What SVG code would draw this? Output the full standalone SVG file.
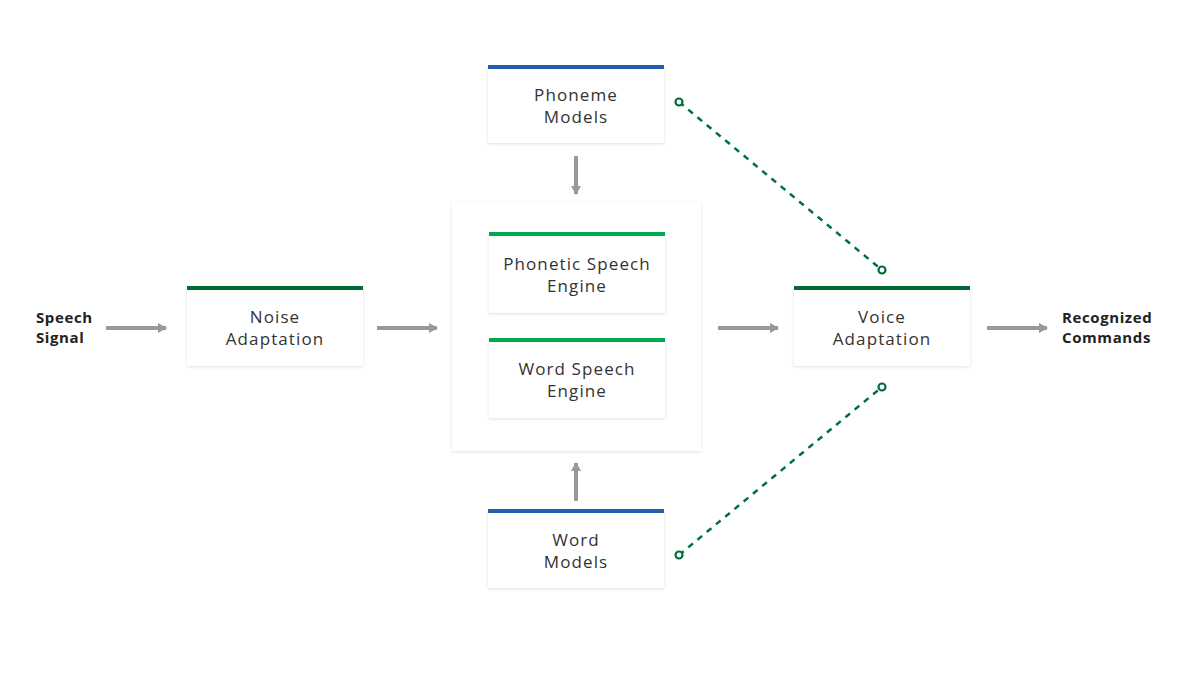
<svg xmlns="http://www.w3.org/2000/svg" width="1200" height="675" viewBox="0 0 1200 675">
<defs>
<filter id="sh" x="-10%" y="-10%" width="120%" height="130%">
<feDropShadow dx="0" dy="1" stdDeviation="1.5" flood-color="#000" flood-opacity="0.12"/>
</filter>
<marker id="ah" markerWidth="10" markerHeight="12" refX="8" refY="6" orient="auto" markerUnits="userSpaceOnUse">
<path d="M0,1 L9,6 L0,11 Z" fill="#999"/>
</marker>
<marker id="oc" markerWidth="12" markerHeight="12" refX="6" refY="6" markerUnits="userSpaceOnUse">
<circle cx="6" cy="6" r="3.5" fill="#fff" stroke="#00703c" stroke-width="2.2"/>
</marker>
</defs>
<style>
.box{fill:#fff;filter:url(#sh)}
.t{font-family:"Open Sans","Noto Sans",sans-serif;font-size:17px;letter-spacing:1.1px;fill:#333;text-anchor:middle}
.lb{font-family:"Open Sans","Noto Sans",sans-serif;font-size:15px;letter-spacing:0.6px;font-weight:bold;fill:#222}
.arr{stroke:#999;stroke-width:4;fill:none;marker-end:url(#ah)}
.dash{stroke:#00703c;stroke-width:2.5;stroke-dasharray:6,6;fill:none;marker-start:url(#oc);marker-end:url(#oc)}
.blue{fill:#1f5fad}.lg{fill:#00a94f}.dg{fill:#006b35}
</style>
<rect width="1200" height="675" fill="#fff"/>
<g id="connectors">
<line class="arr" x1="106" y1="328" x2="166" y2="328"/>
<line class="arr" x1="377" y1="328" x2="437" y2="328"/>
<line class="arr" x1="718" y1="328" x2="778" y2="328"/>
<line class="arr" x1="987" y1="328" x2="1047" y2="328"/>
<line class="arr" x1="576" y1="156" x2="576" y2="194"/>
<line class="arr" x1="576" y1="501" x2="576" y2="463"/>
<line class="dash" x1="679" y1="102" x2="882" y2="270"/>
<line class="dash" x1="679" y1="555" x2="882" y2="387"/>
</g>
<g id="speech-signal"><text class="lb" x="36" y="323">Speech</text><text class="lb" x="36" y="343">Signal</text></g>
<g id="recognized-commands"><text class="lb" x="1062" y="323">Recognized</text><text class="lb" x="1062" y="343">Commands</text></g>
<g id="phoneme-models"><rect class="box" x="488" y="66" width="176" height="77"/><rect class="blue" x="488" y="65" width="176" height="4"/>
<text class="t" x="576" y="101">Phoneme</text><text class="t" x="576" y="123">Models</text></g>
<g id="engine-group"><rect class="box" x="452" y="202" width="249" height="249"/></g>
<g id="phonetic-engine"><rect class="box" x="489" y="233" width="176" height="80"/><rect class="lg" x="489" y="232" width="176" height="4"/>
<text class="t" x="577" y="270">Phonetic Speech</text><text class="t" x="577" y="292">Engine</text></g>
<g id="word-engine"><rect class="box" x="489" y="339" width="176" height="79"/><rect class="lg" x="489" y="338" width="176" height="4"/>
<text class="t" x="577" y="375">Word Speech</text><text class="t" x="577" y="397">Engine</text></g>
<g id="noise-adaptation"><rect class="box" x="187" y="287" width="176" height="79"/><rect class="dg" x="187" y="286" width="176" height="4"/>
<text class="t" x="275" y="323">Noise</text><text class="t" x="275" y="345">Adaptation</text></g>
<g id="voice-adaptation"><rect class="box" x="794" y="287" width="176" height="79"/><rect class="dg" x="794" y="286" width="176" height="4"/>
<text class="t" x="882" y="323">Voice</text><text class="t" x="882" y="345">Adaptation</text></g>
<g id="word-models"><rect class="box" x="488" y="510" width="176" height="78"/><rect class="blue" x="488" y="509" width="176" height="4"/>
<text class="t" x="576" y="546">Word</text><text class="t" x="576" y="568">Models</text></g>
</svg>
